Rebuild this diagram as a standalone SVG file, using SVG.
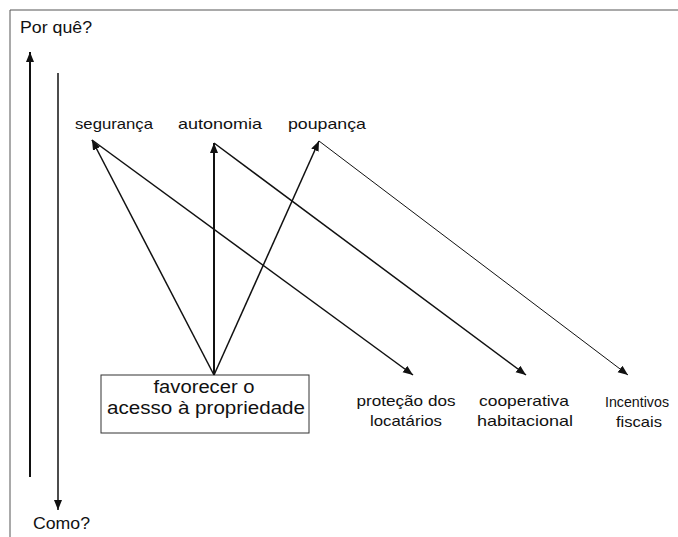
<svg xmlns="http://www.w3.org/2000/svg" width="678" height="537" viewBox="0 0 678 537">
<style>
text{font-family:"Liberation Sans","DejaVu Sans",sans-serif;fill:#111;}
.t{font-size:16px;}
.s{font-size:15px;text-anchor:middle;}
.b{font-size:17.5px;text-anchor:middle;}
.ln{stroke:#111;fill:none;}
</style>
<defs>
<marker id="ah" viewBox="0 0 10 10" refX="10" refY="5" markerWidth="10" markerHeight="10" markerUnits="userSpaceOnUse" orient="auto">
<path d="M0,1 L10,5 L0,9 z" fill="#111"/>
</marker>
</defs>
<rect width="678" height="537" fill="#fff"/>
<path d="M10,537 V10 H678" stroke="#555" stroke-width="1" fill="none"/>
<text class="t" x="20" y="33" textLength="72" lengthAdjust="spacingAndGlyphs">Por quê?</text>
<text class="t" x="33" y="529" textLength="57" lengthAdjust="spacingAndGlyphs">Como?</text>
<g id="axes">
<line class="ln" x1="30" y1="477" x2="30" y2="52" stroke-width="2" marker-end="url(#ah)"/>
<line class="ln" x1="58" y1="73" x2="58" y2="510" stroke-width="1.5" marker-end="url(#ah)"/>
</g>
<g id="seguranca"><text class="s" x="114" y="129" textLength="78" lengthAdjust="spacingAndGlyphs">segurança</text></g>
<g id="autonomia"><text class="s" x="220" y="129" textLength="84" lengthAdjust="spacingAndGlyphs">autonomia</text></g>
<g id="poupanca"><text class="s" x="327" y="129" textLength="78" lengthAdjust="spacingAndGlyphs">poupança</text></g>
<g id="favorecer">
<rect x="101" y="375" width="208" height="58" fill="#fff" stroke="#333" stroke-width="1"/>
<text class="b" x="204" y="393" textLength="101" lengthAdjust="spacingAndGlyphs">favorecer o</text>
<text class="b" x="206" y="414" textLength="198" lengthAdjust="spacingAndGlyphs">acesso à propriedade</text>
</g>
<g id="protecao">
<text class="s" x="406" y="406" textLength="99" lengthAdjust="spacingAndGlyphs">proteção dos</text>
<text class="s" x="406" y="426" textLength="72" lengthAdjust="spacingAndGlyphs">locatários</text>
</g>
<g id="cooperativa">
<text class="s" x="524" y="406" textLength="90" lengthAdjust="spacingAndGlyphs">cooperativa</text>
<text class="s" x="525" y="426" textLength="96" lengthAdjust="spacingAndGlyphs">habitacional</text>
</g>
<g id="incentivos">
<text class="s" x="637" y="407" textLength="64" lengthAdjust="spacingAndGlyphs">Incentivos</text>
<text class="s" x="639" y="427" textLength="46" lengthAdjust="spacingAndGlyphs">fiscais</text>
</g>
<g id="connectors">
<line class="ln" x1="214" y1="375" x2="92" y2="140" stroke-width="1.5" marker-end="url(#ah)"/>
<line class="ln" x1="214" y1="375" x2="214" y2="143" stroke-width="2" marker-end="url(#ah)"/>
<line class="ln" x1="214" y1="375" x2="319" y2="141" stroke-width="1.5" marker-end="url(#ah)"/>
<line class="ln" x1="92" y1="140" x2="413" y2="375" stroke-width="1.5" marker-end="url(#ah)"/>
<line class="ln" x1="214" y1="143" x2="526" y2="375" stroke-width="1.5" marker-end="url(#ah)"/>
<line class="ln" x1="319" y1="141" x2="628" y2="375" stroke-width="1" marker-end="url(#ah)"/>
</g>
</svg>
